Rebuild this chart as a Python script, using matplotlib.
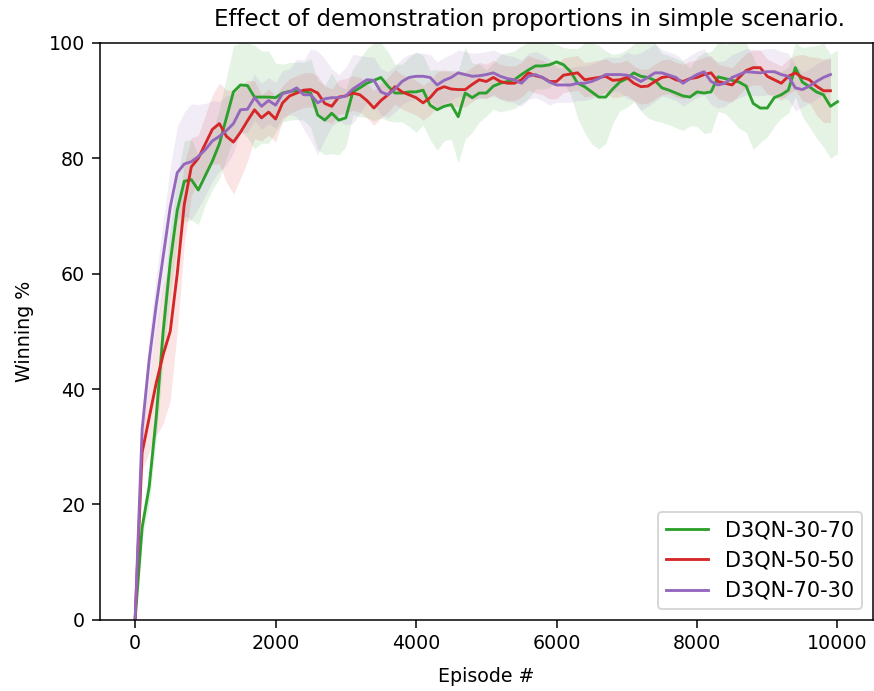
import numpy as np
import matplotlib
matplotlib.use("Agg")
import matplotlib.pyplot as plt

# Winning % every 100 episodes
win_30_70 = [0, 16, 23, 35, 50, 62, 71, 76, 76.3, 74.5,
             77, 79.5, 82.5, 87, 91.5, 92.7, 92.6, 90.6, 90.6, 90.6,
             90.5, 91.3, 91.6, 91.7, 91.6, 91.3, 87.5, 86.6, 87.8, 86.6,
             87, 91.5, 92.2, 93, 93.5, 94, 92.5, 91.3, 91.3, 91.5,
             91.5, 91.8, 89.2, 88.4, 89, 89.3, 87.2, 91.3, 90.5, 91.3,
             91.3, 92.5, 93, 93.3, 93.6, 94.5, 95.3, 96, 96, 96.2,
             96.7, 96.2, 95, 93, 92.4, 91.5, 90.6, 90.6, 92, 93.2,
             93.8, 94.8, 94.2, 94, 93.5, 92.2, 91.8, 91.3, 90.8, 90.6,
             91.5, 91.3, 91.5, 94.1, 93.8, 93.5, 93.2, 92.5, 89.5, 88.7,
             88.7, 90.5, 91, 91.8, 95.7, 93.2, 92.4, 91.5, 91, 89,
             89.8]

win_50_50 = [0, 29, 35, 41, 46, 50, 60, 72, 78.5, 80,
             82.5, 85, 86, 83.8, 82.8, 84.5, 86.5, 88.4, 87, 88,
             86.8, 89.6, 90.8, 91.3, 91.8, 91.9, 91.3, 89.5, 89, 90.6,
             90.8, 91.3, 91, 90, 88.7, 90, 91, 92.4, 91.5, 91,
             90.5, 89.6, 90.5, 91.9, 92.4, 92, 91.9, 91.9, 92.8, 93.6,
             93.3, 94, 93.3, 93, 93, 93.6, 94.8, 94.3, 94, 93.3,
             93.3, 94.4, 94.6, 94.8, 93.6, 93.8, 94, 94.2, 93.5, 93.6,
             94, 93, 92.4, 92.5, 93.3, 94, 94.2, 93.6, 93.3, 93.8,
             94, 94.5, 94.8, 93.3, 93, 92.7, 94, 95.2, 95.7, 95.7,
             94.2, 93.6, 93, 94.2, 94.8, 94, 93.6, 92.5, 91.7, 91.7]

win_70_30 = [0, 33, 45, 54.5, 63, 71.5, 77.5, 79, 79.4, 80.3,
             81.5, 83, 83.8, 84.8, 86, 88.4, 88.5, 90.5, 89, 90,
             89.2, 91.2, 91.5, 92.2, 91, 91, 89.6, 90.3, 90.5, 90.5,
             90.8, 92, 92.8, 93.6, 93.5, 91.5, 91, 92, 93.3, 94,
             94.2, 94.2, 94, 92.7, 93.5, 94, 94.8, 94.5, 94.2, 94.3,
             94.5, 94.8, 94.2, 93.8, 93.6, 93, 94.2, 94.5, 94, 93.2,
             92.7, 92.7, 92.7, 93, 93, 93.3, 93.8, 94.5, 94.5, 94.5,
             94.4, 94, 93.3, 94, 94.8, 94.8, 94.4, 94, 93, 93.8,
             94.5, 95, 93.3, 92.7, 93, 94, 94.5, 95, 94.9, 94.8,
             95, 95, 94.5, 94.2, 92.2, 91.9, 92.5, 93.3, 94, 94.5]

# half-width of the shaded band around each curve
sd_30_70 = [0, 2, 3, 4, 5, 6, 6, 7, 7, 6,
            5, 5, 6, 7, 8, 8, 9, 9, 8, 8,
            6, 5, 5, 5, 5, 6, 6, 6, 7, 6,
            5, 4, 5, 6, 7, 7, 6, 5, 5, 6,
            7, 6, 6, 7, 6, 6, 8, 8, 6, 5,
            4, 4, 5, 5, 5, 5, 5, 4, 4, 4,
            3, 3, 4, 6, 8, 9, 9, 8, 6, 5,
            5, 5, 6, 7, 7, 6, 6, 6, 6, 5,
            6, 7, 7, 6, 6, 7, 8, 8, 8, 6,
            5, 5, 4, 4, 5, 6, 7, 8, 9, 9,
            9]
sd_50_50 = [0, 3, 6, 9, 12, 12, 10, 7, 5, 4,
            5, 6, 7, 8, 9, 8, 7, 5, 4, 4,
            4, 3, 3, 3, 3, 3, 3, 3, 3, 3,
            3, 3, 3, 3, 3, 3, 3, 3, 3, 3,
            3, 3, 3, 3, 3, 3, 3, 3, 3, 3,
            3, 3, 3, 3, 3, 3, 3, 3, 3, 3,
            3, 3, 3, 3, 3, 3, 3, 3, 3, 3,
            3, 3, 3, 3, 3, 3, 3, 3, 3, 3,
            3, 3, 3, 3, 3, 3, 3, 3, 3, 3,
            3, 3, 3, 3, 3, 4, 4, 5, 5.5, 5.5]
sd_70_30 = [0, 3, 4, 5, 6, 7, 8, 9, 10, 9,
            8, 7, 6, 6, 5, 4, 4, 4, 4, 4,
            4, 4, 4, 5, 6, 8, 9, 7, 5, 4,
            5, 6, 5, 4, 4, 4, 4, 4, 4, 4,
            4, 4, 4, 4, 4, 4, 4, 4, 4, 4,
            4, 4, 4, 4, 4, 4, 4, 4, 4, 4,
            3, 3, 3, 3, 3, 3, 3, 3, 3, 3,
            4, 4, 5, 5, 5, 4, 4, 4, 4, 4,
            4, 4, 4, 4, 4, 4, 4, 4, 4, 4,
            4, 4, 4, 4, 4, 3, 3, 3, 3, 3]

labels = ["D3QN-30-70", "D3QN-50-50", "D3QN-70-30"]
colors = ["tab:green", "tab:red", "tab:purple"]

fig = plt.figure(figsize=(874 / 137, 691 / 137), dpi=137)
ax = fig.add_axes([0.1144, 0.103, 0.884, 0.835])

for mean, sd, lab, col in zip([win_30_70, win_50_50, win_70_30],
                              [sd_30_70, sd_50_50, sd_70_30], labels, colors):
    mean = np.asarray(mean, float)
    sd = np.asarray(sd, float)
    ep = np.arange(len(mean)) * 100
    ax.plot(ep, mean, color=col, label=lab, lw=1.5)
    ax.fill_between(ep, mean - sd, np.minimum(mean + sd, 100), color=col,
                    alpha=0.12, lw=0)

ax.set_ylim(0, 100)
ax.set_xticks([0, 2000, 4000, 6000, 8000, 10000])
ax.tick_params(length=4.2)
ax.set_xlabel("Episode #", labelpad=7)
ax.set_ylabel("Winning %", labelpad=8)
ax.set_title("Effect of demonstration proportions in simple scenario.",
             x=0.556, pad=9)
ax.legend(loc="lower right", fontsize=11)

fig.savefig("out.png", dpi=137)
